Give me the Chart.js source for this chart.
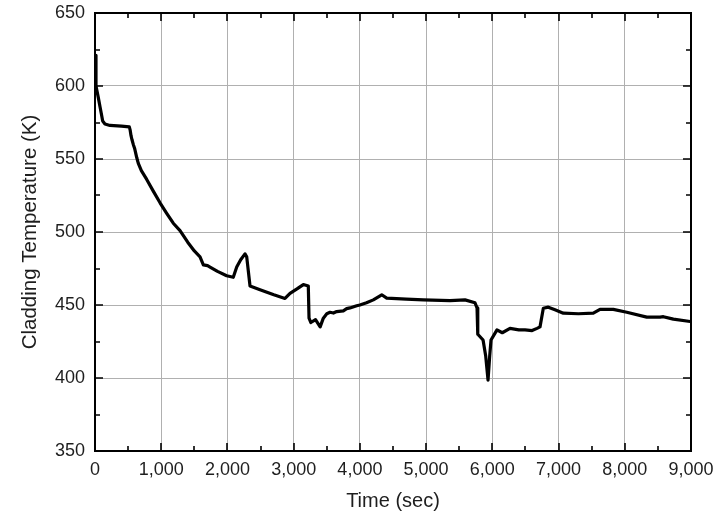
<!DOCTYPE html>
<html>
<head>
<meta charset="utf-8">
<script src="https://cdn.jsdelivr.net/npm/chart.js@4/dist/chart.umd.min.js"></script>
<style>
  html, body { margin: 0; padding: 0; background: #ffffff; }
  #wrap { width: 719px; height: 520px; }
</style>
</head>
<body>
<div id="wrap"><canvas id="c" width="719" height="520"></canvas></div>
<script>
// ---- data ----
const timeSec = [
  0, 15, 50, 75, 100, 116, 150, 226, 400, 518, 530, 544, 560, 578, 600, 630, 654, 700, 781, 880, 982,
  1080, 1182, 1284, 1400, 1500, 1586, 1636, 1700, 1737, 1850, 1988, 2088, 2140, 2200,
  2265, 2291, 2341, 2492, 2700, 2869, 2945, 3050, 3146, 3221, 3232, 3260, 3330, 3400,
  3448, 3500, 3549, 3600, 3650, 3750, 3800, 3850, 3952, 4000, 4100, 4203, 4330, 4405, 4700, 4958, 5361,
  5587, 5738, 5769, 5780, 5860, 5900, 5935, 5960, 5980, 6070, 6150, 6267, 6400, 6494,
  6600, 6675, 6720, 6770, 6845, 6946, 7072, 7300, 7525, 7626, 7827, 8030, 8332, 8533,
  8583, 8734, 8986, 9000
];
const claddingTempK = [
  621, 600, 592, 586, 580, 576, 574, 573, 572.5, 572, 570, 566, 563, 560, 557, 551, 547, 542, 536, 528, 520,
  513, 506, 501, 493, 487, 483, 477.5, 477, 476, 473, 470, 469, 476, 481,
  485, 483, 463, 460.5, 457, 454.5, 458, 461, 464, 463, 441, 438, 440, 435,
  441, 444, 445, 444.5, 445.5, 446, 447.5, 448, 449.5, 450, 451.5, 453.5, 457, 454.7, 454, 453.5, 453,
  453.5, 451.5, 448, 430, 426, 415, 398.5, 415, 426, 433, 431, 434, 433, 433,
  432.5, 434, 435, 447.8, 448.5, 446.7, 444.4, 444, 444.4, 447, 447, 445, 441.7, 441.7,
  442, 440.3, 438.7, 438.7
];
const xAxisRange = [0, 9000];
const xMajorStep = 1000;
const xMinorStep = 500;
const yAxisRange = [350, 650];
const yMajorStep = 50;
const yMinorStep = 25;
const xTitle = 'Time (sec)';
const yTitle = 'Cladding Temperature (K)';

const points = timeSec.map((t, i) => ({ x: t, y: claddingTempK[i] }));

const FONT = "'Liberation Sans', Arial, Helvetica, sans-serif";
const TEXT = '#1e1e1e';

// frame on all four sides with inward major/minor ticks
const framePlugin = {
  id: 'frameTicks',
  afterDatasetsDraw(chart) {
    const { ctx, chartArea: { left, right, top, bottom }, scales: { x, y } } = chart;
    ctx.save();
    ctx.strokeStyle = '#000';
    ctx.lineWidth = 1.6;
    ctx.beginPath();
    for (let v = xAxisRange[0]; v <= xAxisRange[1]; v += xMinorStep) {
      const px = Math.round(x.getPixelForValue(v));
      const len = (v % xMajorStep === 0) ? 8 : 5;
      ctx.moveTo(px, bottom); ctx.lineTo(px, bottom - len);
      ctx.moveTo(px, top); ctx.lineTo(px, top + len);
    }
    for (let v = yAxisRange[0]; v <= yAxisRange[1]; v += yMinorStep) {
      const py = Math.round(y.getPixelForValue(v));
      const len = (v % yMajorStep === 0) ? 8 : 5;
      ctx.moveTo(left, py); ctx.lineTo(left + len, py);
      ctx.moveTo(right, py); ctx.lineTo(right - len, py);
    }
    ctx.stroke();
    ctx.lineWidth = 2;
    ctx.strokeRect(left, top, right - left, bottom - top);
    ctx.restore();
  }
};

new Chart(document.getElementById('c'), {
  type: 'line',
  data: {
    datasets: [{
      data: points,
      borderColor: '#000000',
      borderWidth: 3.2,
      pointRadius: 0,
      tension: 0,
      fill: false,
      borderJoinStyle: 'round',
      borderCapStyle: 'round'
    }]
  },
  options: {
    responsive: false,
    devicePixelRatio: 1,
    animation: false,
    layout: { padding: { left: 0, right: 28, top: 13, bottom: 0 } },
    plugins: { legend: { display: false }, tooltip: { enabled: false } },
    scales: {
      x: {
        type: 'linear',
        min: xAxisRange[0], max: xAxisRange[1],
        ticks: {
          stepSize: xMajorStep,
          color: TEXT,
          font: { family: FONT, size: 18 },
          padding: 8,
          maxRotation: 0,
          autoSkip: false
        },
        grid: { color: '#b0b0b0', lineWidth: 1, drawTicks: false },
        border: { display: false },
        title: {
          display: true, text: xTitle, color: TEXT,
          font: { family: FONT, size: 20 },
          padding: { top: 0, bottom: 7 }
        },
        afterFit(scale) { scale.height = 69; scale.paddingLeft = 0; scale.paddingRight = 0; }
      },
      y: {
        type: 'linear',
        min: yAxisRange[0], max: yAxisRange[1],
        ticks: {
          stepSize: yMajorStep,
          color: TEXT,
          font: { family: FONT, size: 18 },
          padding: 10
        },
        grid: { color: '#b0b0b0', lineWidth: 1, drawTicks: false },
        border: { display: false },
        title: {
          display: true, text: yTitle, color: TEXT,
          font: { family: FONT, size: 20.5 },
          padding: { top: 18, bottom: 0 }
        },
        afterFit(scale) { scale.width = 95; scale.paddingTop = 0; scale.paddingBottom = 0; }
      }
    }
  },
  plugins: [framePlugin]
});
</script>
</body>
</html>
